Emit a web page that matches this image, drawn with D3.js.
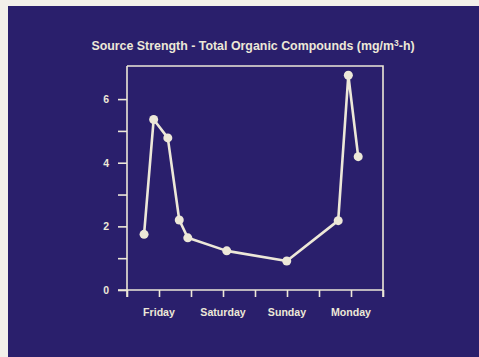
<!DOCTYPE html>
<html>
<head>
<meta charset="utf-8">
<script src="https://cdn.jsdelivr.net/npm/d3@7"></script>
<style>
  html, body { margin: 0; padding: 0; background: #f3f0ea; }
  svg { display: block; }
</style>
</head>
<body>
<svg id="chart" width="479" height="357"></svg>
<script>
// Hours since Friday 00:00 for each measurement
const hours = [6.4, 10.0, 15.3, 19.6, 22.8, 37.4, 59.9, 79.2, 83.0, 86.7];
// Source strength, mg/m3-h
const strength = [1.75, 5.36, 4.78, 2.20, 1.64, 1.23, 0.91, 2.18, 6.75, 4.19];
// Day labels sit at noon of each day
const dayLabels = ["Friday", "Saturday", "Sunday", "Monday"];
const dayNoon = [12, 36, 60, 84];
const yTicks = [0, 1, 2, 3, 4, 5, 6];
const yTickLabels = ["0", "", "2", "", "4", "", "6"];

const W = 479, H = 357;
const bg = "#2a1f6c";
const fg = "#ede8d8";

const svg = d3.select("#chart");

// dark slide background, leaving a thin paper edge top and left
svg.append("rect").attr("x", 8).attr("y", 6).attr("width", W - 8).attr("height", H - 6).attr("fill", bg);

const plot = { left: 127, right: 383, top: 66, bottom: 290 };

const x = d3.scaleLinear().domain([0, 96]).range([plot.left, plot.right]);
const y = d3.scaleLinear().domain([0, 7.04]).range([plot.bottom, plot.top]);

// title
const title = svg.append("text")
  .attr("x", 253).attr("y", 50)
  .attr("text-anchor", "middle")
  .attr("fill", fg)
  .attr("font-family", "Liberation Sans, Arial, sans-serif")
  .attr("font-weight", "bold")
  .attr("font-size", 12.4);
title.append("tspan").text("Source Strength - Total Organic Compounds (mg/m");
title.append("tspan").attr("dy", -4).attr("font-size", 8.5).text("3");
title.append("tspan").attr("dy", 4).text("-h)");

// frame top and right
svg.append("path")
  .attr("d", `M${plot.left},${plot.top}H${plot.right}V${plot.bottom + 7}`)
  .attr("fill", "none").attr("stroke", fg).attr("stroke-width", 1.6);

// x axis: tick every 12 hours, day names under the noon ticks
const xAxis = d3.axisBottom(x)
  .tickValues(d3.range(0, 97, 12))
  .tickSize(7)
  .tickSizeOuter(0)
  .tickFormat("");
const gx = svg.append("g").attr("transform", `translate(0,${plot.bottom})`).call(xAxis);
gx.select(".domain").attr("d", `M${plot.left - 9},0H${plot.right}`);
gx.selectAll("path,line").attr("stroke", fg).attr("stroke-width", 1.6);

svg.append("g").selectAll("text").data(dayLabels).join("text")
  .attr("x", (d, i) => x(dayNoon[i]))
  .attr("y", 316)
  .attr("text-anchor", "middle")
  .attr("fill", fg)
  .attr("font-family", "Liberation Sans, Arial, sans-serif")
  .attr("font-weight", "bold")
  .attr("font-size", 10.6)
  .text(d => d);

// y axis
const yAxis = d3.axisLeft(y)
  .tickValues(yTicks)
  .tickSize(9)
  .tickSizeOuter(0)
  .tickPadding(9)
  .tickFormat((d, i) => yTickLabels[i]);
const gy = svg.append("g").attr("transform", `translate(${plot.left},0)`).call(yAxis);
gy.select(".domain").attr("d", `M0,${plot.top}V${plot.bottom + 7}`);
gy.selectAll("path,line").attr("stroke", fg).attr("stroke-width", 1.6);
gy.selectAll("text")
  .attr("fill", fg)
  .attr("font-family", "Liberation Sans, Arial, sans-serif")
  .attr("font-weight", "bold")
  .attr("font-size", 10.5);

// series
const pts = hours.map((h, i) => [h, strength[i]]);
const line = d3.line().x(d => x(d[0])).y(d => y(d[1]));
svg.append("path").datum(pts)
  .attr("d", line)
  .attr("fill", "none")
  .attr("stroke", fg)
  .attr("stroke-width", 2.6)
  .attr("stroke-linejoin", "round");

svg.append("g").selectAll("circle").data(pts).join("circle")
  .attr("cx", d => x(d[0]))
  .attr("cy", d => y(d[1]))
  .attr("r", 4.5)
  .attr("fill", fg);
</script>
</body>
</html>
